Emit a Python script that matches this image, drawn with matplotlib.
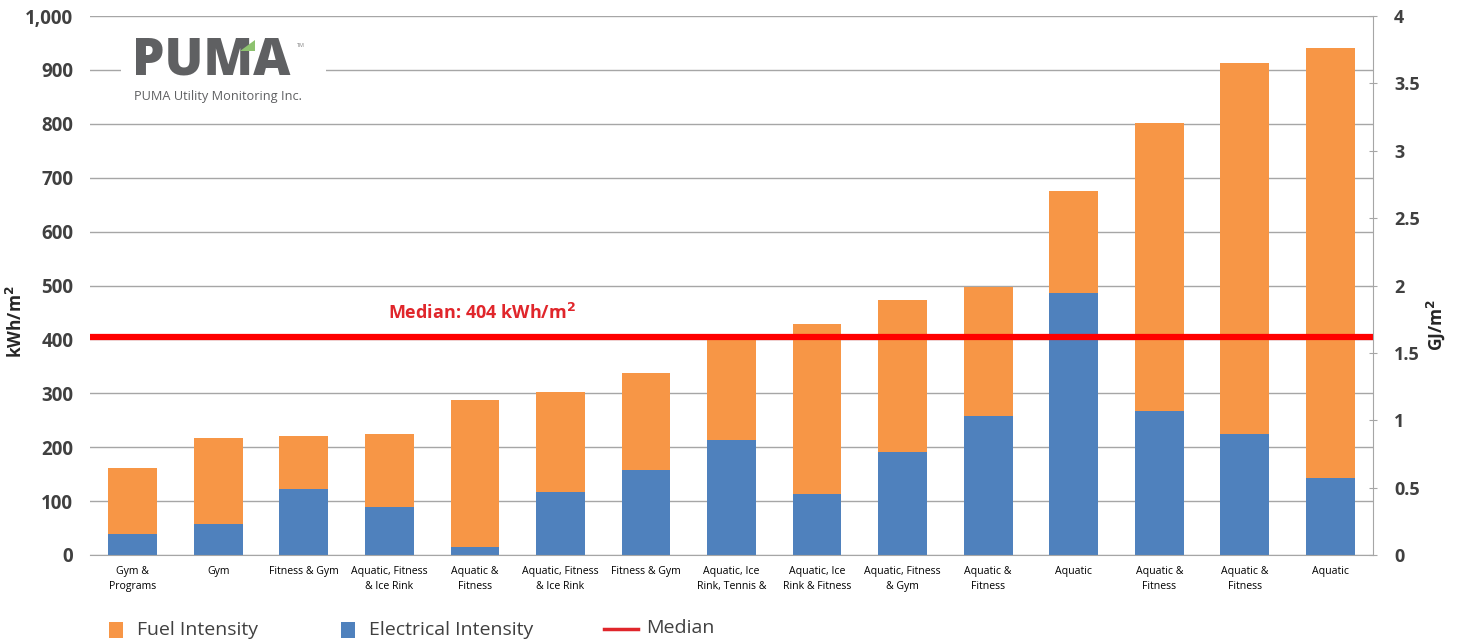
import matplotlib.pyplot as plt
import matplotlib.ticker as mticker
from matplotlib.patches import Polygon, Rectangle
import numpy as np

categories = ['Gym &\nPrograms', 'Gym', 'Fitness & Gym', 'Aquatic, Fitness\n& Ice Rink',
              'Aquatic &\nFitness', 'Aquatic, Fitness\n& Ice Rink', 'Fitness & Gym',
              'Aquatic, Ice\nRink, Tennis &', 'Aquatic, Ice\nRink & Fitness',
              'Aquatic, Fitness\n& Gym', 'Aquatic &\nFitness', 'Aquatic',
              'Aquatic &\nFitness', 'Aquatic &\nFitness', 'Aquatic']
electrical = [39, 57, 122, 89, 15, 117, 158, 213, 113, 191, 258, 486, 267, 224, 143]
total = [161, 217, 221, 224, 288, 302, 338, 402, 429, 473, 497, 675, 801, 913, 941]
fuel = [t - e for t, e in zip(total, electrical)]
median = 404

orange = '#F79646'
blue = '#4F81BD'
txt = '#404040'

plt.rcParams['font.family'] = ['Open Sans', 'DejaVu Sans']

fig = plt.figure(figsize=(14.61, 6.43), dpi=100)
ax = fig.add_axes([0.0616, 0.1369, 0.8782, 0.8381])

x = np.arange(len(categories))
ax.bar(x, electrical, width=0.57, color=blue, zorder=2)
ax.bar(x, fuel, width=0.57, bottom=electrical, color=orange, zorder=2)
ax.axhline(median, color='#FF0000', lw=4.5, zorder=3)
ax.text(2.98, median + 46, 'Median: 404 kWh/m$^\\mathbf{2}$', color='#E0262B',
        fontsize=13, fontweight='bold', ha='left', va='center')

ax.set_xlim(-0.5, len(categories) - 0.5)
ax.set_ylim(0, 1000)
ax.set_yticks(np.arange(0, 1001, 100))
ax.yaxis.set_major_formatter(mticker.FuncFormatter(lambda v, p: f'{int(v):,}'))
ax.grid(axis='y', color='#A6A6A6', lw=1, zorder=0)
ax.set_xticks(x)
ax.set_xticklabels(categories, fontsize=7.6, color='black', linespacing=1.5)
ax.tick_params(axis='x', length=0, pad=8)
ax.tick_params(axis='y', length=0, pad=12, labelsize=13.5, labelcolor=txt)
for lab in ax.get_yticklabels():
    lab.set_fontweight('bold')
for s in ['top', 'left', 'right']:
    ax.spines[s].set_visible(False)
ax.spines['bottom'].set_color('#A6A6A6')

ax2 = ax.twinx()
ax2.set_ylim(0, 4)
ax2.set_yticks(np.arange(0, 4.01, 0.5))
ax2.yaxis.set_major_formatter(mticker.FuncFormatter(lambda v, p: f'{v:g}'))
ax2.tick_params(axis='y', direction='inout', length=6, color='#A6A6A6', pad=12,
                labelsize=13, labelcolor=txt)
for lab in ax2.get_yticklabels():
    lab.set_fontweight('bold')
for s in ['top', 'left', 'bottom']:
    ax2.spines[s].set_visible(False)
ax2.spines['right'].set_color('#A6A6A6')

fig.text(0.011, 0.5, 'kWh/m$^\\mathbf{2}$', rotation=90, ha='center', va='center',
         fontsize=12.5, fontweight='bold', color='#262626')
fig.text(0.983, 0.495, 'GJ/m$^\\mathbf{2}$', rotation=90, ha='center', va='center',
         fontsize=12.5, fontweight='bold', color='#262626')

# logo
fig.patches.append(Rectangle((0.083, 0.835), 0.14, 0.13, transform=fig.transFigure,
                             facecolor='white', edgecolor='none', zorder=5))
fig.text(0.0905, 0.905, 'PUMA', fontsize=37, fontweight='heavy', color='#5F6062',
         ha='left', va='center', zorder=6)
fig.patches.append(Polygon([[0.1645, 0.921], [0.1745, 0.921], [0.1745, 0.938]],
                           transform=fig.transFigure, facecolor='#8DC26F',
                           edgecolor='none', zorder=7))
fig.text(0.2035, 0.927, 'TM', fontsize=4, color='#808080', zorder=6)
fig.text(0.0915, 0.85, 'PUMA Utility Monitoring Inc.', fontsize=9.2, color='#5F6062',
         ha='left', va='center', zorder=6)

# legend
fig.patches.append(Rectangle((0.0745, 0.008), 0.0095, 0.025, transform=fig.transFigure,
                             facecolor=orange, edgecolor='none'))
fig.text(0.094, 0.02, 'Fuel Intensity', fontsize=14, color=txt, va='center')
fig.patches.append(Rectangle((0.2335, 0.008), 0.0095, 0.025, transform=fig.transFigure,
                             facecolor=blue, edgecolor='none'))
fig.text(0.2525, 0.02, 'Electrical Intensity', fontsize=14, color=txt, va='center')
fig.lines.append(plt.Line2D([0.4135, 0.437], [0.022, 0.022], transform=fig.transFigure,
                            color='#E0262B', lw=2.5))
fig.text(0.4425, 0.024, 'Median', fontsize=14, color=txt, va='center')

fig.savefig('out.png', dpi=100, facecolor='white')
